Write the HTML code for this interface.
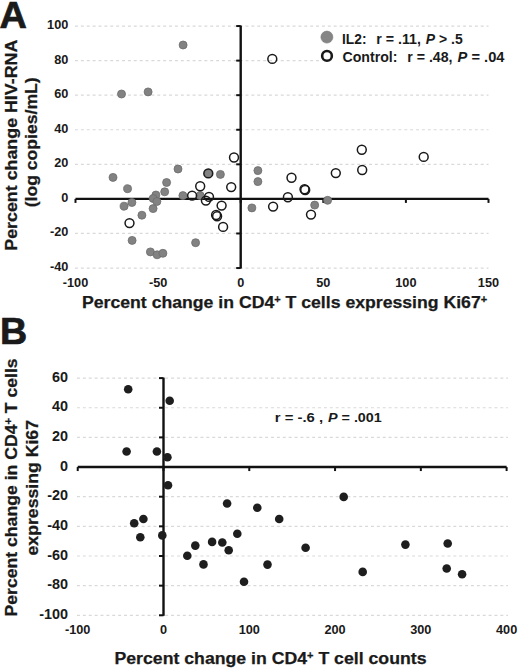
<!DOCTYPE html>
<html><head><meta charset="utf-8"><style>
html,body{margin:0;padding:0;background:#fff;}
body{width:520px;height:669px;overflow:hidden;}
svg{display:block;}
text{font-family:"Liberation Sans", sans-serif;font-weight:bold;fill:#1a1a1a;}
.g{stroke:#d9d9d9;stroke-width:1.2;stroke-dasharray:2.94 2.94;}
.ax{stroke:#111;stroke-width:2.4;}
.tk{stroke:#111;stroke-width:2;}
.gd{fill:#828282;stroke:#6c6c6c;stroke-width:0.8;}
.od{fill:none;stroke:#1a1a1a;stroke-width:1.5;}
.bd{fill:#1e1e1e;}
.tl{font-size:12px;}
.tlb{font-size:14px;}
.pl{font-size:36px;stroke:#1a1a1a;stroke-width:0.7;}
.at{font-size:16px;stroke:#1a1a1a;stroke-width:0.25;}
.sup{font-size:10px;}
.lg{font-size:14px;}
.st{font-size:13px;}
</style></head><body>
<svg width="520" height="669" viewBox="0 0 520 669">
<line x1="75" y1="26.04" x2="488.5" y2="26.04" class="g"/>
<line x1="75" y1="60.61" x2="488.5" y2="60.61" class="g"/>
<line x1="75" y1="95.18" x2="488.5" y2="95.18" class="g"/>
<line x1="75" y1="129.76" x2="488.5" y2="129.76" class="g"/>
<line x1="75" y1="164.33" x2="488.5" y2="164.33" class="g"/>
<line x1="75" y1="233.47" x2="488.5" y2="233.47" class="g"/>
<line x1="75" y1="268.04" x2="488.5" y2="268.04" class="g"/>
<line x1="77" y1="378.10" x2="508" y2="378.10" class="g"/>
<line x1="77" y1="407.75" x2="508" y2="407.75" class="g"/>
<line x1="77" y1="437.40" x2="508" y2="437.40" class="g"/>
<line x1="77" y1="496.70" x2="508" y2="496.70" class="g"/>
<line x1="77" y1="526.35" x2="508" y2="526.35" class="g"/>
<line x1="77" y1="556.00" x2="508" y2="556.00" class="g"/>
<line x1="77" y1="585.65" x2="508" y2="585.65" class="g"/>
<line x1="77" y1="615.30" x2="508" y2="615.30" class="g"/>
<rect x="319.5" y="29" width="192" height="37" fill="#fff"/>
<line x1="75.50" y1="198.90" x2="488.50" y2="198.90" class="ax"/>
<line x1="75.50" y1="198.90" x2="75.50" y2="202.90" class="tk"/>
<line x1="158.10" y1="198.90" x2="158.10" y2="202.90" class="tk"/>
<line x1="240.70" y1="198.90" x2="240.70" y2="202.90" class="tk"/>
<line x1="323.30" y1="198.90" x2="323.30" y2="202.90" class="tk"/>
<line x1="405.90" y1="198.90" x2="405.90" y2="202.90" class="tk"/>
<line x1="488.50" y1="198.90" x2="488.50" y2="202.90" class="tk"/>
<line x1="240.70" y1="25.54" x2="240.70" y2="268.54" class="ax"/>
<line x1="236.20" y1="26.04" x2="240.70" y2="26.04" class="tk"/>
<line x1="236.20" y1="60.61" x2="240.70" y2="60.61" class="tk"/>
<line x1="236.20" y1="95.18" x2="240.70" y2="95.18" class="tk"/>
<line x1="236.20" y1="129.76" x2="240.70" y2="129.76" class="tk"/>
<line x1="236.20" y1="164.33" x2="240.70" y2="164.33" class="tk"/>
<line x1="236.20" y1="198.90" x2="240.70" y2="198.90" class="tk"/>
<line x1="236.20" y1="233.47" x2="240.70" y2="233.47" class="tk"/>
<line x1="236.20" y1="268.04" x2="240.70" y2="268.04" class="tk"/>
<line x1="77.72" y1="467.05" x2="506.62" y2="467.05" class="ax"/>
<line x1="77.72" y1="467.05" x2="77.72" y2="471.05" class="tk"/>
<line x1="163.50" y1="467.05" x2="163.50" y2="471.05" class="tk"/>
<line x1="249.28" y1="467.05" x2="249.28" y2="471.05" class="tk"/>
<line x1="335.06" y1="467.05" x2="335.06" y2="471.05" class="tk"/>
<line x1="420.84" y1="467.05" x2="420.84" y2="471.05" class="tk"/>
<line x1="506.62" y1="467.05" x2="506.62" y2="471.05" class="tk"/>
<line x1="163.50" y1="377.60" x2="163.50" y2="615.80" class="ax"/>
<line x1="159.00" y1="378.10" x2="163.50" y2="378.10" class="tk"/>
<line x1="159.00" y1="407.75" x2="163.50" y2="407.75" class="tk"/>
<line x1="159.00" y1="437.40" x2="163.50" y2="437.40" class="tk"/>
<line x1="159.00" y1="467.05" x2="163.50" y2="467.05" class="tk"/>
<line x1="159.00" y1="496.70" x2="163.50" y2="496.70" class="tk"/>
<line x1="159.00" y1="526.35" x2="163.50" y2="526.35" class="tk"/>
<line x1="159.00" y1="556.00" x2="163.50" y2="556.00" class="tk"/>
<line x1="159.00" y1="585.65" x2="163.50" y2="585.65" class="tk"/>
<line x1="159.00" y1="615.30" x2="163.50" y2="615.30" class="tk"/>
<circle cx="183.1" cy="45.0" r="4.0" class="gd"/>
<circle cx="121.5" cy="94.0" r="4.0" class="gd"/>
<circle cx="148.1" cy="91.9" r="4.0" class="gd"/>
<circle cx="113.0" cy="177.4" r="4.0" class="gd"/>
<circle cx="127.6" cy="188.7" r="4.0" class="gd"/>
<circle cx="166.6" cy="182.5" r="4.0" class="gd"/>
<circle cx="164.7" cy="191.8" r="4.0" class="gd"/>
<circle cx="155.9" cy="195.0" r="4.0" class="gd"/>
<circle cx="153.1" cy="198.5" r="4.0" class="gd"/>
<circle cx="156.9" cy="201.5" r="4.0" class="gd"/>
<circle cx="131.9" cy="202.5" r="4.0" class="gd"/>
<circle cx="124.1" cy="206.2" r="4.0" class="gd"/>
<circle cx="153.1" cy="208.6" r="4.0" class="gd"/>
<circle cx="141.9" cy="215.2" r="4.0" class="gd"/>
<circle cx="178.0" cy="169.0" r="4.0" class="gd"/>
<circle cx="182.9" cy="195.6" r="4.0" class="gd"/>
<circle cx="200.2" cy="195.6" r="4.0" class="gd"/>
<circle cx="220.4" cy="174.4" r="4.0" class="gd"/>
<circle cx="132.1" cy="240.4" r="4.0" class="gd"/>
<circle cx="195.6" cy="242.7" r="4.0" class="gd"/>
<circle cx="150.4" cy="251.9" r="4.0" class="gd"/>
<circle cx="157.1" cy="254.8" r="4.0" class="gd"/>
<circle cx="162.9" cy="253.3" r="4.0" class="gd"/>
<circle cx="257.9" cy="170.6" r="4.0" class="gd"/>
<circle cx="257.9" cy="181.6" r="4.0" class="gd"/>
<circle cx="251.9" cy="207.9" r="4.0" class="gd"/>
<circle cx="314.7" cy="205.1" r="4.0" class="gd"/>
<circle cx="327.6" cy="200.3" r="4.0" class="gd"/>
<circle cx="208.3" cy="173.4" r="4.0" class="gd"/>
<circle cx="129.5" cy="223.1" r="4.45" class="od"/>
<circle cx="200.2" cy="186.2" r="4.45" class="od"/>
<circle cx="192.1" cy="195.6" r="4.45" class="od"/>
<circle cx="209.0" cy="196.9" r="4.45" class="od"/>
<circle cx="205.9" cy="200.6" r="4.45" class="od"/>
<circle cx="221.6" cy="205.6" r="4.45" class="od"/>
<circle cx="216.1" cy="215.0" r="4.45" class="od"/>
<circle cx="217.1" cy="216.2" r="4.45" class="od"/>
<circle cx="223.1" cy="226.9" r="4.45" class="od"/>
<circle cx="231.2" cy="187.1" r="4.45" class="od"/>
<circle cx="234.0" cy="157.5" r="4.45" class="od"/>
<circle cx="272.3" cy="58.9" r="4.45" class="od"/>
<circle cx="273.1" cy="206.6" r="4.45" class="od"/>
<circle cx="291.5" cy="177.8" r="4.45" class="od"/>
<circle cx="287.9" cy="197.3" r="4.45" class="od"/>
<circle cx="304.5" cy="189.3" r="4.45" class="od"/>
<circle cx="305.2" cy="190.0" r="4.45" class="od"/>
<circle cx="311.0" cy="214.6" r="4.45" class="od"/>
<circle cx="208.3" cy="173.4" r="4.45" class="od"/>
<circle cx="335.8" cy="173.1" r="4.45" class="od"/>
<circle cx="362.2" cy="170.0" r="4.45" class="od"/>
<circle cx="361.8" cy="149.7" r="4.45" class="od"/>
<circle cx="423.7" cy="156.9" r="4.45" class="od"/>
<circle cx="128.2" cy="389.2" r="4.3" class="bd"/>
<circle cx="169.7" cy="400.8" r="4.3" class="bd"/>
<circle cx="126.6" cy="451.5" r="4.3" class="bd"/>
<circle cx="156.9" cy="451.5" r="4.3" class="bd"/>
<circle cx="167.4" cy="457.2" r="4.3" class="bd"/>
<circle cx="168.0" cy="485.2" r="4.3" class="bd"/>
<circle cx="143.4" cy="519.0" r="4.3" class="bd"/>
<circle cx="134.2" cy="523.3" r="4.3" class="bd"/>
<circle cx="140.3" cy="537.2" r="4.3" class="bd"/>
<circle cx="162.3" cy="535.4" r="4.3" class="bd"/>
<circle cx="195.3" cy="545.6" r="4.3" class="bd"/>
<circle cx="227.1" cy="503.5" r="4.3" class="bd"/>
<circle cx="257.3" cy="507.7" r="4.3" class="bd"/>
<circle cx="279.2" cy="519.0" r="4.3" class="bd"/>
<circle cx="237.3" cy="533.8" r="4.3" class="bd"/>
<circle cx="212.1" cy="541.9" r="4.3" class="bd"/>
<circle cx="222.3" cy="542.5" r="4.3" class="bd"/>
<circle cx="228.7" cy="550.2" r="4.3" class="bd"/>
<circle cx="187.3" cy="555.8" r="4.3" class="bd"/>
<circle cx="203.5" cy="564.4" r="4.3" class="bd"/>
<circle cx="267.5" cy="564.6" r="4.3" class="bd"/>
<circle cx="244.0" cy="581.7" r="4.3" class="bd"/>
<circle cx="343.7" cy="496.9" r="4.3" class="bd"/>
<circle cx="305.6" cy="547.7" r="4.3" class="bd"/>
<circle cx="362.7" cy="571.9" r="4.3" class="bd"/>
<circle cx="405.4" cy="544.6" r="4.3" class="bd"/>
<circle cx="447.7" cy="543.5" r="4.3" class="bd"/>
<circle cx="446.7" cy="568.5" r="4.3" class="bd"/>
<circle cx="462.1" cy="574.2" r="4.3" class="bd"/>
<text x="68.3" y="28.94" class="tl" text-anchor="end" textLength="21.22" lengthAdjust="spacingAndGlyphs">100</text>
<text x="68.3" y="63.51" class="tl" text-anchor="end" textLength="14.14" lengthAdjust="spacingAndGlyphs">80</text>
<text x="68.3" y="98.08" class="tl" text-anchor="end" textLength="14.14" lengthAdjust="spacingAndGlyphs">60</text>
<text x="68.3" y="132.66" class="tl" text-anchor="end" textLength="14.14" lengthAdjust="spacingAndGlyphs">40</text>
<text x="68.3" y="167.23" class="tl" text-anchor="end" textLength="14.14" lengthAdjust="spacingAndGlyphs">20</text>
<text x="68.3" y="201.80" class="tl" text-anchor="end" textLength="7.07" lengthAdjust="spacingAndGlyphs">0</text>
<text x="68.3" y="236.37" class="tl" text-anchor="end" textLength="18.38" lengthAdjust="spacingAndGlyphs">-20</text>
<text x="68.3" y="270.94" class="tl" text-anchor="end" textLength="18.38" lengthAdjust="spacingAndGlyphs">-40</text>
<text x="75.50" y="286.7" class="tl" text-anchor="middle" textLength="25.45" lengthAdjust="spacingAndGlyphs">-100</text>
<text x="158.10" y="286.7" class="tl" text-anchor="middle" textLength="18.38" lengthAdjust="spacingAndGlyphs">-50</text>
<text x="240.70" y="286.7" class="tl" text-anchor="middle" textLength="7.07" lengthAdjust="spacingAndGlyphs">0</text>
<text x="323.30" y="286.7" class="tl" text-anchor="middle" textLength="14.14" lengthAdjust="spacingAndGlyphs">50</text>
<text x="405.90" y="286.7" class="tl" text-anchor="middle" textLength="21.22" lengthAdjust="spacingAndGlyphs">100</text>
<text x="488.50" y="286.7" class="tl" text-anchor="middle" textLength="21.22" lengthAdjust="spacingAndGlyphs">150</text>
<text x="68.0" y="381.70" class="tlb" text-anchor="end" textLength="16.04" lengthAdjust="spacingAndGlyphs">60</text>
<text x="68.0" y="411.35" class="tlb" text-anchor="end" textLength="16.04" lengthAdjust="spacingAndGlyphs">40</text>
<text x="68.0" y="441.00" class="tlb" text-anchor="end" textLength="16.04" lengthAdjust="spacingAndGlyphs">20</text>
<text x="68.0" y="470.65" class="tlb" text-anchor="end" textLength="8.02" lengthAdjust="spacingAndGlyphs">0</text>
<text x="68.0" y="500.30" class="tlb" text-anchor="end" textLength="20.84" lengthAdjust="spacingAndGlyphs">-20</text>
<text x="68.0" y="529.95" class="tlb" text-anchor="end" textLength="20.84" lengthAdjust="spacingAndGlyphs">-40</text>
<text x="68.0" y="559.60" class="tlb" text-anchor="end" textLength="20.84" lengthAdjust="spacingAndGlyphs">-60</text>
<text x="68.0" y="589.25" class="tlb" text-anchor="end" textLength="20.84" lengthAdjust="spacingAndGlyphs">-80</text>
<text x="68.0" y="618.90" class="tlb" text-anchor="end" textLength="28.85" lengthAdjust="spacingAndGlyphs">-100</text>
<text x="77.72" y="633.7" class="tl" text-anchor="middle" textLength="25.45" lengthAdjust="spacingAndGlyphs">-100</text>
<text x="163.50" y="633.7" class="tl" text-anchor="middle" textLength="7.07" lengthAdjust="spacingAndGlyphs">0</text>
<text x="249.28" y="633.7" class="tl" text-anchor="middle" textLength="21.22" lengthAdjust="spacingAndGlyphs">100</text>
<text x="335.06" y="633.7" class="tl" text-anchor="middle" textLength="21.22" lengthAdjust="spacingAndGlyphs">200</text>
<text x="420.84" y="633.7" class="tl" text-anchor="middle" textLength="21.22" lengthAdjust="spacingAndGlyphs">300</text>
<text x="506.62" y="633.7" class="tl" text-anchor="middle" textLength="21.22" lengthAdjust="spacingAndGlyphs">400</text>
<text x="82.00" y="307.90" class="at" textLength="405.19" lengthAdjust="spacingAndGlyphs">Percent change in CD4<tspan class="sup" dy="-5">+</tspan><tspan dy="5"> T cells expressing Ki67</tspan><tspan class="sup" dy="-5">+</tspan></text>
<text x="114.50" y="664.30" class="at" textLength="311.98" lengthAdjust="spacingAndGlyphs">Percent change in CD4<tspan class="sup" dy="-5">+</tspan><tspan dy="5"> T cell counts</tspan></text>
<text transform="translate(16.50,250.70) rotate(-90)" class="at" textLength="210.99" lengthAdjust="spacingAndGlyphs">Percent change HIV-RNA</text>
<text transform="translate(37.20,207.30) rotate(-90)" class="at" textLength="130.03" lengthAdjust="spacingAndGlyphs">(log copies/mL)</text>
<text transform="translate(17.40,616.50) rotate(-90)" class="at" textLength="258.18" lengthAdjust="spacingAndGlyphs">Percent change in CD4<tspan class="sup" dy="-5">+</tspan><tspan dy="5"> T cells</tspan></text>
<text transform="translate(38.30,555.50) rotate(-90)" class="at" textLength="135.53" lengthAdjust="spacingAndGlyphs">expressing Ki67</text>
<text x="342.05" y="43.80" class="lg" textLength="24.44" lengthAdjust="spacingAndGlyphs">IL2:</text>
<text x="376.30" y="43.80" class="lg" textLength="44.68" lengthAdjust="spacingAndGlyphs">r = .11,</text>
<text x="425.80" y="43.80" class="lg" textLength="36.88" lengthAdjust="spacingAndGlyphs"><tspan font-style="italic">P</tspan> &gt; .5</text>
<text x="342.50" y="62.10" class="lg" textLength="54.94" lengthAdjust="spacingAndGlyphs">Control:</text>
<text x="407.20" y="62.10" class="lg" textLength="45.37" lengthAdjust="spacingAndGlyphs">r = .48,</text>
<text x="457.60" y="62.10" class="lg" textLength="46.87" lengthAdjust="spacingAndGlyphs"><tspan font-style="italic">P</tspan> = .04</text>
<text x="274.80" y="421.50" class="st" textLength="48.38" lengthAdjust="spacingAndGlyphs">r = -.6 ,</text>
<text x="328.00" y="421.50" class="st" textLength="53.80" lengthAdjust="spacingAndGlyphs"><tspan font-style="italic">P</tspan> = .001</text>
<text x="-0.40" y="28.00" class="pl" textLength="27.40" lengthAdjust="spacingAndGlyphs">A</text>
<text x="0.00" y="344.00" class="pl" textLength="27.20" lengthAdjust="spacingAndGlyphs">B</text>
<circle cx="326.9" cy="37.1" r="6.0" fill="#858585" stroke="#777" stroke-width="0.6"/>
<circle cx="327" cy="55.9" r="4.85" fill="#fff" stroke="#1a1a1a" stroke-width="2.6"/>
</svg>
</body></html>
